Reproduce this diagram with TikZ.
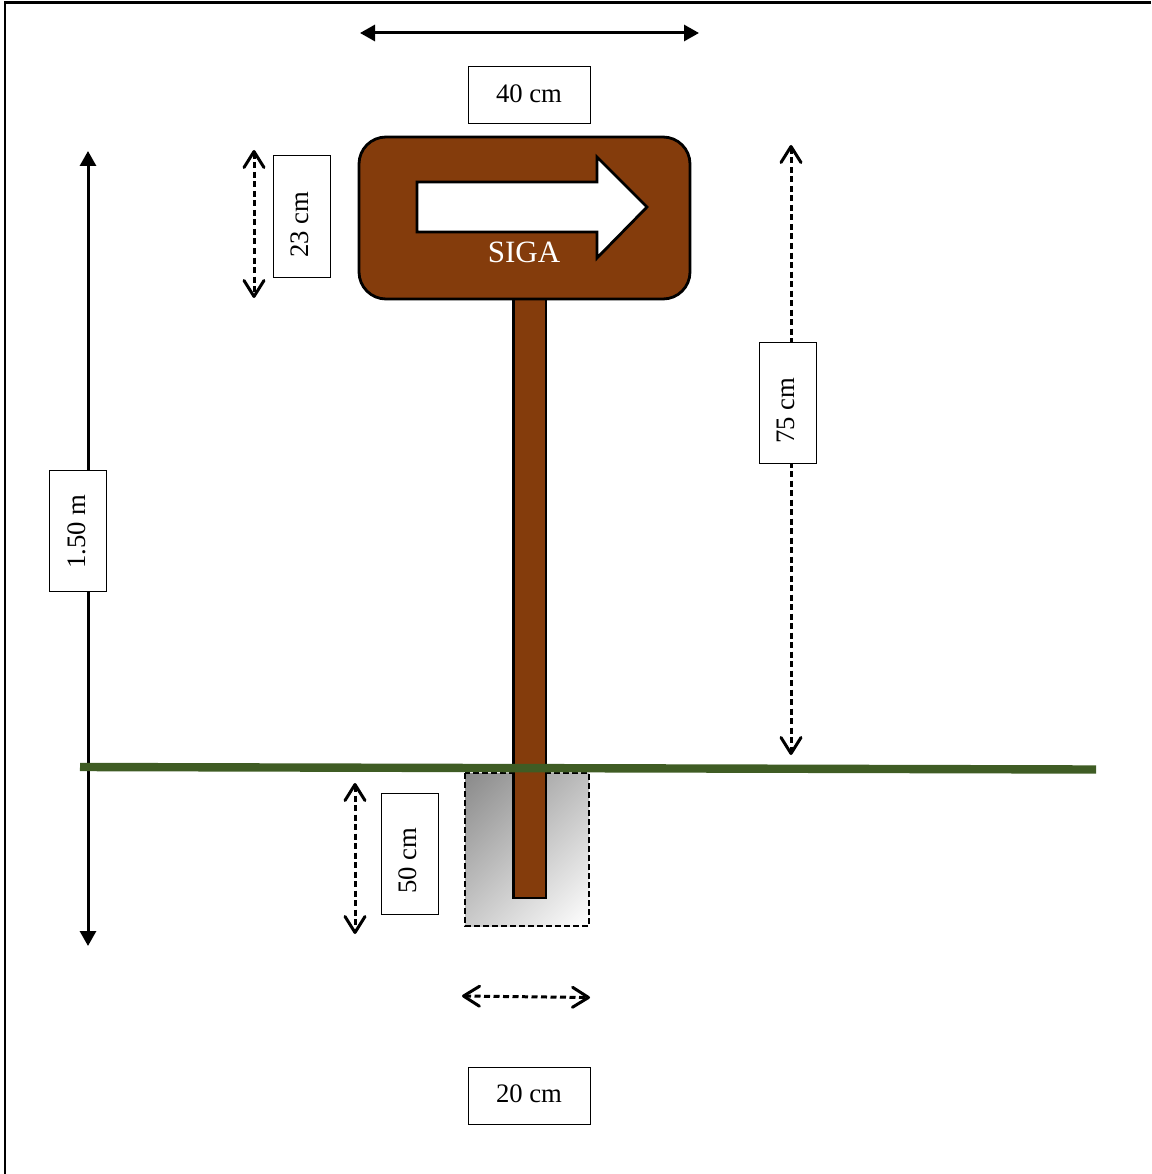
\documentclass[tikz,border=0pt]{standalone}
\usepackage{fontspec}
\setmainfont{Liberation Serif}
\usetikzlibrary{arrows.meta,shadings}
\definecolor{signbrown}{HTML}{843C0C}
\definecolor{grass}{HTML}{3F5C24}
\tikzset{
  x=1pt,y=-1pt,
  dimbox/.style={draw=black,line width=1pt,fill=white,inner sep=0pt,font=\fontsize{26.7}{30}\selectfont,text=black},
  hbox/.style={dimbox,minimum width=122pt,minimum height=57pt},
  vbox/.style={dimbox,rotate=90,minimum width=121pt,minimum height=57pt},
  solidarrow/.style={line width=3pt,{Triangle[length=15pt,width=16pt]}-{Triangle[length=15pt,width=16pt]}},
  dasharrow/.style={line width=3pt,dash pattern=on 6pt off 3.5pt,{Straight Barb[length=16pt,width=20pt,line width=3pt,round]}-{Straight Barb[length=16pt,width=20pt,line width=3pt,round]}},
  brownpart/.style={fill=signbrown,draw=black,line width=2.8pt},
}
\begin{document}
\begin{tikzpicture}
\useasboundingbox (0,0) rectangle (1151,1174);
\draw[line width=2.4pt,black] (5,1174) -- (5,2.5) -- (1151,2.5);
% dimension end points
\coordinate (topL) at (360,33); \coordinate (topR) at (699,33);
\coordinate (heightT) at (88,151); \coordinate (heightB) at (88,946);
\coordinate (signT) at (254,150); \coordinate (signB) at (254,298);
\coordinate (upT) at (791,145); \coordinate (upB) at (791,755);
\coordinate (footT) at (355,783); \coordinate (footB) at (355,934);
\coordinate (wideL) at (462,996); \coordinate (wideR) at (590,997.5);
\coordinate (groundL) at (80,767); \coordinate (groundR) at (1096,769.5);
% arrows
\draw[solidarrow] (topL) -- (topR);
\draw[solidarrow] (heightT) -- (heightB);
\draw[dasharrow] (signT) -- (signB);
\draw[dasharrow] (upT) -- (upB);
\draw[dasharrow] (footT) -- (footB);
\draw[dasharrow] (wideL) -- (wideR);
% footing
\begin{scope}
\clip (465,773) rectangle (589,926);
\path[shade,shading=axis,top color=black!46,bottom color=white,shading angle=45] (429,751.5) rectangle (625,947.5);
\end{scope}
\draw[line width=2.8pt,dash pattern=on 6pt off 3pt] (465,773) rectangle (589,926);
% post and sign
\draw[brownpart] (513.5,299) rectangle (546,898);
\draw[brownpart,rounded corners=27pt] (359,137) rectangle (690,299);
\draw[line width=2.8pt,fill=white] (417,182) -- (597,182) -- (597,157) -- (647,207) -- (597,258) -- (597,232) -- (417,232) -- cycle;
\node[name=siga,text=white,font=\fontsize{31}{34}\selectfont,inner sep=0pt] at (524,252.5) {SIGA};
% ground
\draw[line width=8.4pt,grass] (groundL) -- (groundR);
% labels
\node[hbox,name=b40] at (529,95.5) {\raisebox{3pt}{40 cm}};
\node[hbox,name=b20] at (529,1095.5) {\raisebox{3pt}{20 cm}};
\node[vbox,name=b23] at (301.5,216.5) {\raisebox{4pt}{23 cm\kern16pt}};
\node[vbox,name=b75] at (788,402.5) {\raisebox{4pt}{75 cm\kern16pt}};
\node[vbox,name=b50] at (410,853.5) {\raisebox{4pt}{50 cm\kern14pt}};
\node[vbox,name=b150] at (78,530.5) {\raisebox{2pt}{1.50 m\kern2pt}};
\end{tikzpicture}
\end{document}
